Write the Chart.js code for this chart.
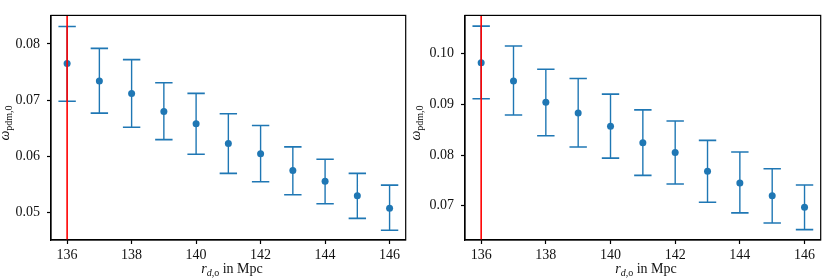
<!DOCTYPE html>
<html>
<head>
<meta charset="utf-8">
<script src="https://cdn.jsdelivr.net/npm/chart.js@4/dist/chart.umd.min.js"></script>
<style>
body { margin: 0; background: #fff; }
#wrap { position: relative; width: 831px; height: 280px; overflow: hidden; font-family: "Liberation Serif", serif; color: #111; }
canvas { position: absolute; top: 0; }
.xt { position: absolute; top: 261px; width: 200px; text-align: center; font-size: 14px; line-height: 16px; }
.yt { position: absolute; width: 120px; text-align: center; font-size: 14px; line-height: 16px; transform: rotate(-90deg); }
sub { font-size: 10px; vertical-align: -3px; }
</style>
</head>
<body>
<div id="wrap">
  <canvas id="c1" width="416" height="280" style="left:0;width:416px;height:280px"></canvas>
  <canvas id="c2" width="415" height="280" style="left:416px;width:415px;height:280px"></canvas>
  <div class="xt" style="left:132px"><i>r</i><sub><i>d</i>,o</sub> in Mpc</div>
  <div class="xt" style="left:546px"><i>r</i><sub><i>d</i>,o</sub> in Mpc</div>
  <div class="yt" style="left:-53px;top:113px"><i>ω</i><sub>pdm,0</sub></div>
  <div class="yt" style="left:358px;top:113px"><i>ω</i><sub>pdm,0</sub></div>
</div>
<script>
// r_d,o values
const xs = [136, 137, 138, 139, 140, 141, 142, 143, 144, 145, 146];
const xTicks = [136, 138, 140, 142, 144, 146];

// left panel
const leftVal = [0.0765, 0.0734, 0.0712, 0.0680, 0.0658, 0.0623, 0.0605, 0.0575, 0.0556, 0.0530, 0.0508];
const leftHi  = [0.0831, 0.0792, 0.0772, 0.0731, 0.0712, 0.0676, 0.0655, 0.0617, 0.0595, 0.0570, 0.0549];
const leftLo  = [0.0698, 0.0677, 0.0652, 0.0630, 0.0604, 0.0570, 0.0555, 0.0532, 0.0516, 0.0490, 0.0469];
const leftTicks = [0.05, 0.06, 0.07, 0.08];

// right panel
const rightVal = [0.0982, 0.0946, 0.0904, 0.0883, 0.0857, 0.0824, 0.0805, 0.0768, 0.0745, 0.0720, 0.0697];
const rightHi  = [0.1054, 0.1015, 0.0969, 0.0951, 0.0920, 0.0889, 0.0867, 0.0829, 0.0806, 0.0773, 0.0741];
const rightLo  = [0.0911, 0.0879, 0.0838, 0.0816, 0.0794, 0.0760, 0.0743, 0.0707, 0.0686, 0.0666, 0.0653];
const rightTicks = [0.07, 0.08, 0.09, 0.10];

const rMarked = 136;
const blue = '#1f77b4';

const frame = {
    id: 'frame',
    afterDraw(chart) {
        const a = chart.chartArea;
        const ctx = chart.ctx;
        ctx.save();
        ctx.strokeStyle = '#000';
        ctx.lineWidth = 1.2;
        ctx.strokeRect(a.left, a.top, a.right - a.left, a.bottom - a.top);
        ctx.restore();
    }
};

function grafico(id, val, lo, hi, yTicks, yMin, yMax, yWidth, padRight) {
    let stems = [];
    for (let i = 0; i < xs.length; i++) {
        stems.push({x: xs[i], y: lo[i]}, {x: xs[i], y: hi[i]}, {x: xs[i], y: null});
    }
    let caps = [];
    for (let i = 0; i < xs.length; i++) {
        caps.push({x: xs[i], y: lo[i]}, {x: xs[i], y: hi[i]});
    }
    const pts = xs.map((x, i) => ({x: x, y: val[i]}));

    const font = {family: '"Liberation Serif", serif', size: 14};

    return new Chart(document.getElementById(id), {
        type: 'scatter',
        data: {
            datasets: [
                { type: 'line', data: [{x: rMarked, y: yMin}, {x: rMarked, y: yMax}], borderColor: '#ff0000', borderWidth: 1.6, pointRadius: 0 },
                { data: pts, backgroundColor: blue, borderWidth: 0, pointRadius: 3.5 },
                { data: caps, pointStyle: 'line', pointRadius: 8.7, borderColor: blue, borderWidth: 1.6 },
                { type: 'line', data: stems, borderColor: blue, borderWidth: 1.4, pointRadius: 0, spanGaps: false }
            ]
        },
        options: {
            responsive: false,
            animation: false,
            layout: { padding: { left: 0, right: padRight, top: 3, bottom: 0 } },
            plugins: { legend: { display: false }, tooltip: { enabled: false } },
            scales: {
                x: {
                    type: 'linear', min: 135.5, max: 146.5,
                    afterBuildTicks: s => { s.ticks = xTicks.map(v => ({value: v})); },
                    afterFit: s => { s.height = 40; },
                    grid: { drawOnChartArea: false, drawTicks: true, tickLength: 4, tickColor: '#000', tickWidth: 1.2 },
                    border: { display: true, color: '#000', width: 1.2 },
                    ticks: { color: '#111', font: font, padding: 3, maxRotation: 0, callback: v => String(v) }
                },
                y: {
                    min: yMin, max: yMax,
                    afterBuildTicks: s => { s.ticks = yTicks.map(v => ({value: v})); },
                    afterFit: s => { s.width = yWidth; },
                    grid: { drawOnChartArea: false, drawTicks: true, tickLength: 4, tickColor: '#000', tickWidth: 1.2 },
                    border: { display: true, color: '#000', width: 1.2 },
                    ticks: { color: '#111', font: font, padding: 7, callback: v => v.toFixed(2) }
                }
            }
        },
        plugins: [frame]
    });
}

grafico('c1', leftVal, leftLo, leftHi, leftTicks, 0.04516, 0.08506, 51, 3);
grafico('c2', rightVal, rightLo, rightHi, rightTicks, 0.06326, 0.10752, 49, 4);
</script>
</body>
</html>
